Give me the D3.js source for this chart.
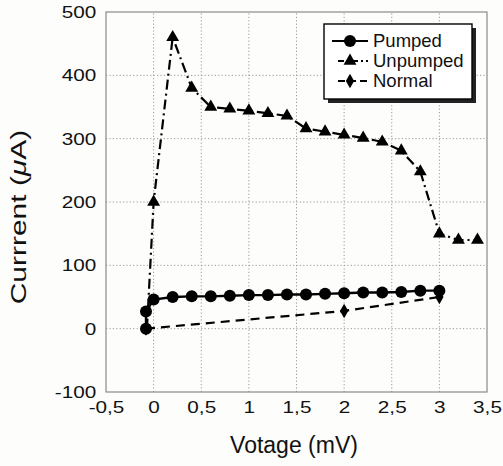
<!DOCTYPE html>
<html>
<head>
<meta charset="utf-8">
<script src="https://cdn.jsdelivr.net/npm/d3@7"></script>
<style>
  body { margin: 0; background: #fdfdfb; }
  text { font-family: "Liberation Sans", Arial, sans-serif; fill: #111; }
</style>
</head>
<body>
<div id="chart"></div>
<script>
// data (voltage in mV, current in uA)
const pumped = [[-0.08, 0], [-0.08, 27], [0, 46], [0.2, 50], [0.4, 51], [0.6, 51], [0.8, 52],
  [1.0, 53], [1.2, 53], [1.4, 54], [1.6, 54], [1.8, 55], [2.0, 56], [2.2, 57], [2.4, 57],
  [2.6, 58], [2.8, 60], [3.0, 60]];
const unpumped = [[-0.07, 0], [0, 200], [0.2, 460], [0.4, 380], [0.6, 350], [0.8, 347],
  [1.0, 344], [1.2, 340], [1.4, 336], [1.6, 316], [1.8, 311], [2.0, 306], [2.2, 301],
  [2.4, 295], [2.6, 281], [2.8, 248], [3.0, 150], [3.2, 140], [3.4, 140]];
const normal = [[-0.08, 0], [2.0, 28], [3.0, 50]];
const xTicks = [-0.5, 0, 0.5, 1, 1.5, 2, 2.5, 3, 3.5];
const yTicks = [-100, 0, 100, 200, 300, 400, 500];
const seriesNames = ["Pumped", "Unpumped", "Normal"];

const width = 503, height = 466;
const margin = {top: 12, right: 16, bottom: 74, left: 106};

const svg = d3.select("#chart").append("svg")
  .attr("width", width).attr("height", height);

const x = d3.scaleLinear().domain([-0.5, 3.5]).range([margin.left, width - margin.right]);
const y = d3.scaleLinear().domain([-100, 500]).range([height - margin.bottom, margin.top]);

// plain hyphen and decimal comma, as in the picture
const fmt = d => String(d).replace(".", ",");

// grid
svg.append("g").selectAll("line").data(xTicks.slice(1, -1)).enter().append("line")
  .attr("x1", d => x(d)).attr("x2", d => x(d))
  .attr("y1", y(-100)).attr("y2", y(500))
  .attr("stroke", "#999").attr("stroke-dasharray", "1.2,2.2");
svg.append("g").selectAll("line").data(yTicks.slice(1, -1)).enter().append("line")
  .attr("x1", x(-0.5)).attr("x2", x(3.5))
  .attr("y1", d => y(d)).attr("y2", d => y(d))
  .attr("stroke", "#999").attr("stroke-dasharray", "1.2,2.2");

svg.append("rect")
  .attr("x", x(-0.5)).attr("y", y(500))
  .attr("width", x(3.5) - x(-0.5)).attr("height", y(-100) - y(500))
  .attr("fill", "none").attr("stroke", "#8a8a8a").attr("stroke-width", 1.2);

// axes
const xAxis = svg.append("g").attr("transform", `translate(0,${y(-100)})`)
  .call(d3.axisBottom(x).tickValues(xTicks).tickFormat(fmt).tickSize(0).tickPadding(7));
const yAxis = svg.append("g").attr("transform", `translate(${x(-0.5)},0)`)
  .call(d3.axisLeft(y).tickValues(yTicks).tickFormat(fmt).tickSize(0).tickPadding(8));
[xAxis, yAxis].forEach(a => {
  a.select(".domain").remove();
  a.selectAll("text").style("font-size", "17px").attr("fill", "#111")
    .attr("font-family", null).attr("transform", "scale(1.22,1)");
});
xAxis.selectAll("text").attr("dy", "0.85em");

// lines
const line = d3.line().x(d => x(d[0])).y(d => y(d[1]));
svg.append("path").datum(normal).attr("d", line)
  .attr("fill", "none").attr("stroke", "#000").attr("stroke-width", 2.2)
  .attr("stroke-dasharray", "9,6");
svg.append("path").datum(unpumped).attr("d", line)
  .attr("fill", "none").attr("stroke", "#000").attr("stroke-width", 2.2)
  .attr("stroke-dasharray", "10,4,2,4");
svg.append("path").datum(pumped).attr("d", line)
  .attr("fill", "none").attr("stroke", "#000").attr("stroke-width", 2.4);

// markers
const tri = d3.symbol().type(d3.symbolTriangle).size(72);
const dia = d3.symbol().type(d3.symbolDiamond).size(60);
svg.append("g").selectAll("path").data(unpumped.slice(1)).enter().append("path")
  .attr("d", tri).attr("transform", d => `translate(${x(d[0])},${y(d[1])})`);
svg.append("g").selectAll("path").data(normal).enter().append("path")
  .attr("d", dia).attr("transform", d => `translate(${x(d[0])},${y(d[1])})`);
svg.append("g").selectAll("circle").data(pumped).enter().append("circle")
  .attr("cx", d => x(d[0])).attr("cy", d => y(d[1])).attr("r", 6);

// legend
const lg = svg.append("g").attr("transform", "translate(324,24)");
lg.append("rect").attr("x", 4).attr("y", 4).attr("width", 148).attr("height", 75).attr("fill", "#222");
lg.append("rect").attr("width", 148).attr("height", 75)
  .attr("fill", "#fff").attr("stroke", "#000").attr("stroke-width", 1.4);
const dashes = [null, "6,3,2,3", "7,4"];
seriesNames.forEach((name, i) => {
  const ly = 17 + i * 20;
  lg.append("line").attr("x1", i === 0 ? 8 : 14).attr("x2", 44).attr("y1", ly).attr("y2", ly)
    .attr("stroke", "#000").attr("stroke-width", 2.2).attr("stroke-dasharray", dashes[i]);
  if (i === 0) lg.append("circle").attr("cx", 26).attr("cy", ly).attr("r", 6);
  if (i === 1) lg.append("path").attr("d", tri).attr("transform", `translate(26,${ly})`);
  if (i === 2) lg.append("path").attr("d", dia).attr("transform", `translate(26,${ly})`);
  lg.append("text").attr("x", 49).attr("y", ly + 6).style("font-size", "18.5px").text(name);
});

// axis titles
svg.append("text").attr("x", 294).attr("y", 453).attr("text-anchor", "middle")
  .style("font-size", "23px").text("Votage (mV)");
const yt = svg.append("text").attr("text-anchor", "middle")
  .attr("transform", "translate(26,217) rotate(-90) scale(1,0.72)")
  .style("font-size", "30px");
yt.append("tspan").text("Currrent (");
yt.append("tspan").style("font-style", "italic").text("μ");
yt.append("tspan").text("A)");
</script>
</body>
</html>
